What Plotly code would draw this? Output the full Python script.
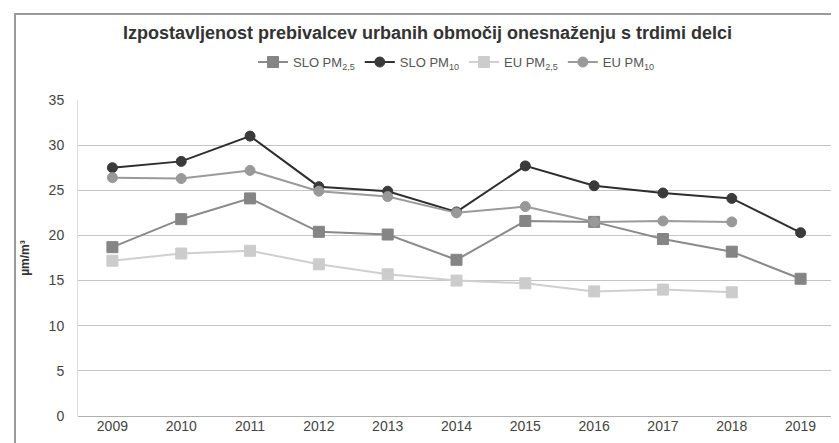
import plotly.graph_objects as go

years = ["2009", "2010", "2011", "2012", "2013", "2014", "2015", "2016", "2017", "2018", "2019"]
slo_pm25 = [18.7, 21.8, 24.1, 20.4, 20.1, 17.3, 21.6, 21.5, 19.6, 18.2, 15.2]
slo_pm10 = [27.5, 28.2, 31.0, 25.4, 24.9, 22.6, 27.7, 25.5, 24.7, 24.1, 20.3]
eu_pm25 = [17.2, 18.0, 18.3, 16.8, 15.7, 15.0, 14.7, 13.8, 14.0, 13.7, None]
eu_pm10 = [26.4, 26.3, 27.2, 24.9, 24.3, 22.5, 23.2, 21.5, 21.6, 21.5, None]

names = ["SLO PM<sub>2,5</sub>", "SLO PM<sub>10</sub>", "EU PM<sub>2,5</sub>", "EU PM<sub>10</sub>"]
series = [slo_pm25, slo_pm10, eu_pm25, eu_pm10]
line_colors = ["#8a8a8a", "#2e2e2e", "#cfcfcf", "#9a9a9a"]
marker_colors = ["#858585", "#3a3a3a", "#cccccc", "#999999"]
symbols = ["square", "circle", "square", "circle"]
sizes = [11, 10, 11, 10]

fig = go.Figure()
for n, s, lc, mc, sym, sz in zip(names, series, line_colors, marker_colors, symbols, sizes):
    fig.add_trace(go.Scatter(
        x=years, y=s, name=n, mode="lines+markers",
        line=dict(color=lc, width=2),
        marker=dict(symbol=sym, size=sz, color=mc, line=dict(color=mc, width=1)),
        connectgaps=False,
    ))

fig.update_layout(
    width=839, height=443,
    margin=dict(l=70, r=12, t=92, b=35),
    paper_bgcolor="white", plot_bgcolor="white",
    font=dict(family="Liberation Sans, Arial, sans-serif", size=13, color="#444"),
    title=dict(text="<b>Izpostavljenost prebivalcev urbanih območij onesnaženju s trdimi delci</b>",
               x=0.5, xanchor="center", y=0.945, yanchor="middle",
               font=dict(size=18, color="#333")),
    showlegend=True,
    legend=dict(orientation="h", x=0.5, xanchor="center", y=1.12, yanchor="middle",
                font=dict(size=13, color="#555"), itemwidth=30, tracegroupgap=0,
                bgcolor="rgba(0,0,0,0)"),
    xaxis=dict(type="category", range=[-0.5, 10.5], showgrid=False, showline=False,
               ticks="", tickfont=dict(size=14, color="#444")),
    yaxis=dict(range=[0, 35], dtick=5, showgrid=True, gridcolor="#c4c4c4", gridwidth=1,
               zeroline=True, zerolinecolor="#b0b0b0", zerolinewidth=1,
               showline=True, linecolor="#dddddd", linewidth=1,
               ticks="", ticklabelstandoff=10, tickfont=dict(size=14, color="#444"),
               title=dict(text="<b>µm/m³</b>", font=dict(size=12, color="#333"), standoff=16)),
)
# outer frame (left and top edges visible in the reference)
fig.add_annotation(xref="paper", yref="paper", x=-0.0845, y=1.275, xanchor="left", yanchor="top",
                   text="", showarrow=False, width=860, height=470,
                   bordercolor="#9a9a9a", borderwidth=2, borderpad=0, bgcolor="rgba(0,0,0,0)")

fig.write_html("out.html")
